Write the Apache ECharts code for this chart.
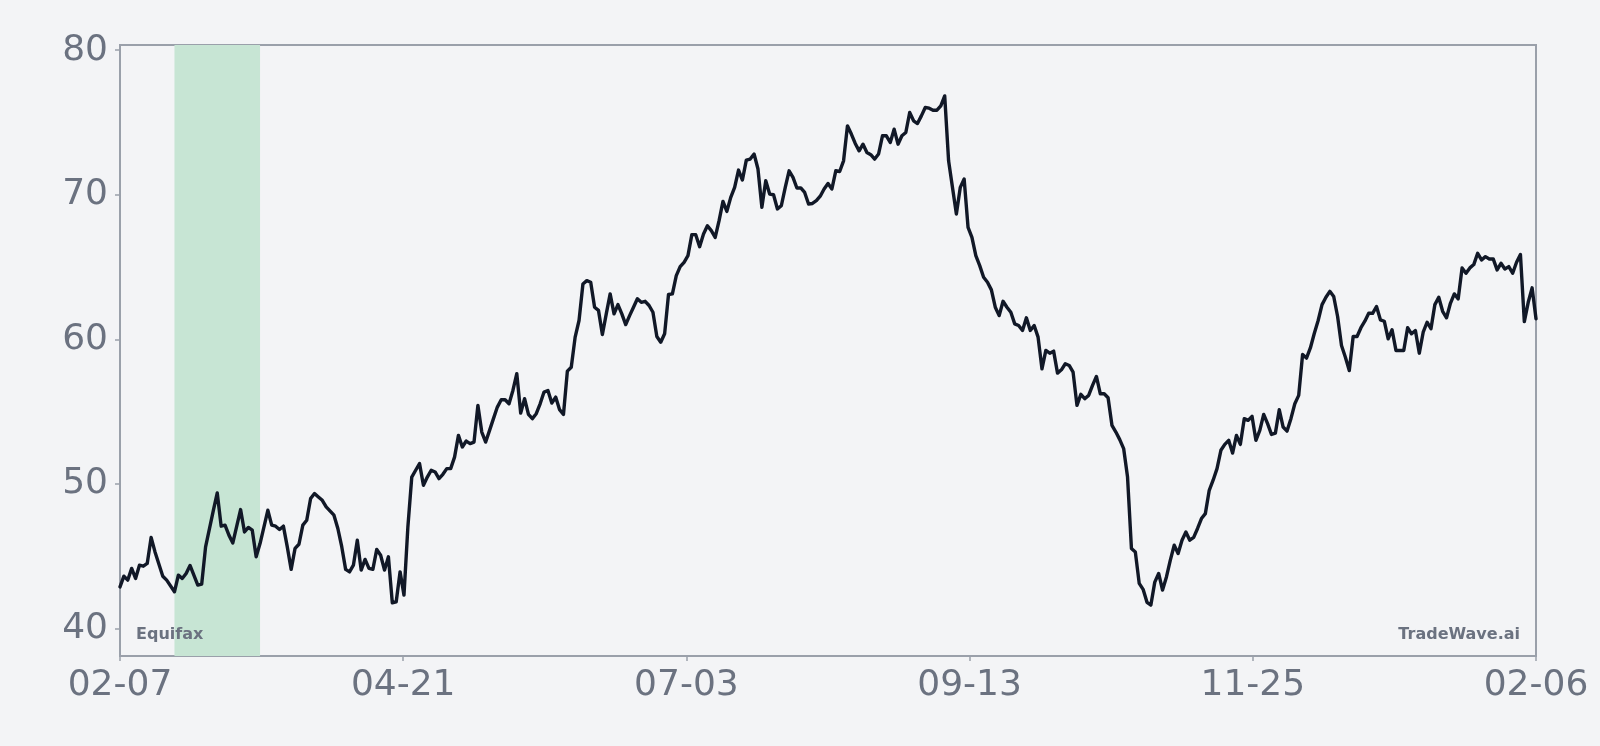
<!DOCTYPE html>
<html>
<head>
<meta charset="utf-8">
<script src="https://cdn.jsdelivr.net/npm/echarts@6/dist/echarts.min.js"></script>
<style>
  html, body { margin: 0; padding: 0; background: #f3f4f6; }
  #chart { width: 1600px; height: 746px; }
</style>
</head>
<body>
<div id="chart"></div>
<script>
// Daily closing values, one entry per calendar day from 02-07 (day 0) to 02-06 (day 364); null = not readable
const values = [
  42.87, 43.61, 43.34, 44.15, 43.45, 44.37, 44.30, 44.49, 46.29, 45.29,
  null, 43.61, 43.34, null, 42.53, 43.68, 43.45, 43.80, 44.35, null,
  42.99, 43.06, 45.64, null, 48.17, 49.37, 47.07, 47.14, 46.45, 45.91,
  null, 48.22, 46.67, 46.98, 46.79, 44.95, 45.87, null, 48.17, 47.14,
  47.07, 46.84, 47.07, 45.64, 44.08, 45.53, 45.82, 47.14, 47.48, 48.98,
  49.33, 49.09, 48.86, 48.40, null, 47.83, 46.91, 45.65, 44.08, 43.91,
  44.37, 46.10, 44.03, 44.77, 44.15, 44.08, 45.46, 45.06, 44.03, 44.95,
  41.77, 41.84, 43.91, 42.30, 47.00, 50.47, 50.94, 51.40, 49.90, 50.47,
  50.94, 50.82, 50.36, 50.66, 51.05, 51.05, 51.85, 53.35, 52.55, 52.96,
  52.78, 52.89, 55.43, 53.58, 52.89, 53.70, 54.51, 55.31, 55.82, 55.82,
  55.54, 56.46, 57.62, 54.89, 55.89, 54.80, 54.51, 54.85, 55.54, 56.35,
  56.46, 55.59, 56.00, 55.13, 54.80, 57.80, 58.07, 60.15, 61.30, 63.83,
  64.06, 63.95, 62.22, 62.00, 60.33, 61.76, 63.14, 61.76, 62.40, 61.76,
  61.02, 61.64, 62.22, 62.80, 62.56, 62.63, 62.34, 61.87, 60.19, 59.80,
  60.38, 63.10, 63.14, 64.41, 65.03, 65.33, 65.79, 67.24, 67.24, 66.41,
  67.29, 67.86, 67.52, 67.05, 68.21, 69.54, 68.85, 69.82, 70.51, 71.71,
  71.02, 72.40, 72.47, 72.82, 71.78, 69.13, 70.97, 70.05, 70.00, 69.02,
  69.24, 70.50, 71.66, 71.20, 70.47, 70.47, 70.16, 69.36, 69.40, 69.59,
  69.90, 70.40, 70.78, 70.40, 71.66, 71.61, 72.35, 74.77, 74.20, 73.55,
  73.04, 73.50, 72.93, 72.77, 72.47, 72.82, 74.08, 74.08, 73.62, 74.54,
  73.50, 74.08, 74.31, 75.69, 75.12, 74.93, 75.46, 76.04, 75.99, 75.85,
  75.85, 76.15, 76.84, 72.35, 70.51, 68.67, 70.51, 71.09, 67.74, 67.05,
  65.79, 65.10, 64.29, 63.95, 63.42, 62.22, 61.64, 62.63, 62.22, 61.87,
  61.07, 60.95, 60.61, 61.49, 60.61, 60.95, 60.15, 57.96, 59.23, 59.04,
  59.18, 57.66, 57.89, 58.31, 58.19, 57.73, 55.43, 56.19, 55.89, 56.12,
  56.81, 57.43, 56.23, 56.23, 55.96, 54.04, 53.58, 53.06, 52.44, 50.47,
  45.53, 45.29, 43.11, 42.70, 41.80, 41.61, 43.20, 43.80, 42.65, 43.56,
  44.72, 45.75, 45.18, 46.10, 46.67, 46.10, 46.29, 46.91, 47.60, 47.94,
  49.55, 50.25, 51.05, 52.32, 52.73, 53.01, 52.13, 53.35, 52.73, 54.51,
  54.39, 54.67, 53.01, 53.70, 54.80, 54.16, 53.42, 53.51, 55.13, 53.93,
  53.65, 54.51, 55.54, 56.12, 58.95, 58.70, 59.40, 60.40, 61.30, 62.40,
  62.91, 63.32, 62.96, 61.58, 59.57, 58.76, 57.84, 60.19, 60.19, 60.80,
  61.25, 61.80, 61.80, 62.27, 61.35, 61.25, 60.03, 60.66, 59.23, 59.23,
  59.23, 60.80, 60.38, 60.61, 59.04, 60.49, 61.18, 60.73, 62.40, 62.91,
  61.94, 61.49, 62.49, 63.14, 62.80, 64.94, 64.57, 64.94, 65.17, 65.95,
  65.49, 65.72, 65.56, 65.56, 64.80, 65.26, 64.87, 65.03, 64.57, 65.33,
  65.86, 61.22, 62.56, 63.56, 61.42
];

// x tick labels (evenly spaced across the 364-day span)
const tickLabels = ['02-07', '04-21', '07-03', '09-13', '11-25', '02-06'];
const yTicks = [40, 50, 60, 70, 80];

// highlighted event window, in days from start
const bandRange = [14, 36];

const annotations = ['Equifax', 'TradeWave.ai'];

const lastDay = values.length - 1;
const xStep = lastDay / (tickLabels.length - 1);
const seriesData = values.map((v, i) => [i, v]);

const FONT = 'DejaVu Sans';
const AXIS_COLOR = '#9aa0aa';
const TEXT_COLOR = '#6b7280';

const chart = echarts.init(document.getElementById('chart'), null, { renderer: 'canvas' });

chart.setOption({
  backgroundColor: '#f3f4f6',
  animation: false,
  grid: {
    left: 120, right: 64, top: 45, bottom: 90,
    show: true, borderColor: AXIS_COLOR, borderWidth: 2, backgroundColor: 'transparent'
  },
  xAxis: {
    type: 'value',
    min: 0,
    max: lastDay,
    interval: xStep,
    axisLine: { show: true, lineStyle: { color: AXIS_COLOR, width: 2 } },
    axisTick: { show: true, length: 5, lineStyle: { color: AXIS_COLOR, width: 1.5 } },
    splitLine: { show: false },
    axisLabel: {
      color: TEXT_COLOR, fontSize: 36, fontFamily: FONT, margin: 12,
      formatter: v => {
        const k = Math.round(v / xStep);
        return Math.abs(k * xStep - v) < 1e-6 && tickLabels[k] ? tickLabels[k] : '';
      }
    }
  },
  yAxis: {
    type: 'value',
    min: e => e.min - (e.max - e.min) * 0.1,
    max: e => e.max + (e.max - e.min) * 0.1,
    axisLine: { show: true, lineStyle: { color: AXIS_COLOR, width: 2 } },
    axisTick: { show: true, length: 5, customValues: yTicks, lineStyle: { color: AXIS_COLOR, width: 1.5 } },
    splitLine: { show: false },
    axisLabel: {
      customValues: yTicks,
      color: TEXT_COLOR, fontSize: 36, fontFamily: FONT, margin: 12,
      formatter: v => (Math.abs(v % 10) < 1e-6 ? String(v) : '')
    }
  },
  series: [
    {
      type: 'line',
      data: [],
      z: 1,
      silent: true,
      markArea: {
        silent: true,
        itemStyle: { color: '#c7e5d4', opacity: 1 },
        data: [[{ xAxis: bandRange[0] }, { xAxis: bandRange[1] }]]
      }
    },
    {
      type: 'line',
      data: seriesData,
      z: 3,
      showSymbol: false,
      connectNulls: true,
      lineStyle: { color: '#111827', width: 3.4, join: 'round', cap: 'round' }
    }
  ],
  graphic: [
    {
      type: 'text', x: 136, y: 635, z: 10,
      style: { text: annotations[0], fill: TEXT_COLOR, font: 'bold 16px "DejaVu Sans"', align: 'left', verticalAlign: 'middle' }
    },
    {
      type: 'text', x: 1520, y: 635, z: 10,
      style: { text: annotations[1], fill: TEXT_COLOR, font: 'bold 16px "DejaVu Sans"', align: 'right', verticalAlign: 'middle' }
    }
  ]
});
</script>
</body>
</html>
